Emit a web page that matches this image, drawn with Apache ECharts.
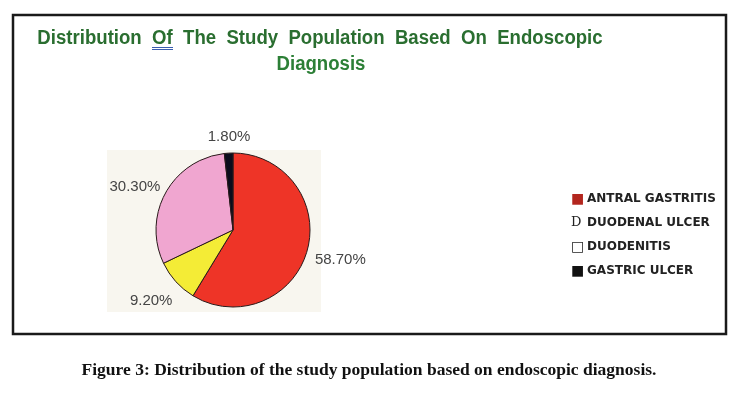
<!DOCTYPE html>
<html>
<head>
<meta charset="utf-8">
<script src="https://cdn.jsdelivr.net/npm/echarts@6/dist/echarts.min.js"></script>
<style>
html,body{margin:0;padding:0;background:#fff;}
#chart{width:747px;height:398px;}
</style>
</head>
<body>
<div id="chart"></div>
<script>
var categories = ['ANTRAL GASTRITIS', 'DUODENAL ULCER', 'DUODENITIS', 'GASTRIC ULCER'];
var values = [58.7, 9.2, 30.3, 1.8];
var sliceColors = ['#ee3427', '#f4ec36', '#f0a6d0', '#0b0c1c'];
var legendMarks = ['■', 'D', '□', '■'];
var legendMarkColors = ['#b3261e', '#222222', '#222222', '#111111'];
var titleLine1 = 'Distribution  Of  The  Study  Population  Based  On  Endoscopic';
var titleLine2 = 'Diagnosis';
var caption = 'Figure 3: Distribution of the study population based on endoscopic diagnosis.';

var chart = echarts.init(document.getElementById('chart'), null, {renderer: 'canvas'});

var pieData = categories.map(function (c, i) {
  return {name: c, value: values[i], itemStyle: {color: sliceColors[i]}};
});

// small label nudges (layout only)
var labelShift = [[-3, 7], [6, 15], [5, -3], [27, -10]];

var rich = {};
legendMarks.forEach(function (m, i) {
  rich['m' + i] = {
    color: legendMarkColors[i],
    fontSize: i === 1 ? 13 : 14,
    fontFamily: i === 1 ? 'DejaVu Serif' : 'DejaVu Sans',
    fontWeight: i === 1 ? 'normal' : 'bold',
    width: 16
  };
});
rich.t = {color: '#222', fontSize: 12, fontWeight: 'bold', fontFamily: 'DejaVu Sans'};

var titleFont = 'bold 20px "Liberation Sans", Arial, sans-serif';

var option = {
  backgroundColor: '#ffffff',
  animation: false,
  graphic: [
    {type: 'rect', shape: {x: 13, y: 15, width: 713, height: 319}, style: {fill: 'none', stroke: '#1a1a1a', lineWidth: 2.5}, z: 0},
    {type: 'rect', shape: {x: 107, y: 150, width: 214, height: 162}, style: {fill: '#f8f6ef'}, z: -1},
    {type: 'text', x: 320, y: 38, scaleX: 0.93, style: {text: titleLine1, fill: '#2a6e30', font: titleFont, textAlign: 'center', textVerticalAlign: 'middle'}},
    {type: 'text', x: 321, y: 64, scaleX: 0.93, style: {text: titleLine2, fill: '#2c7f36', font: titleFont, textAlign: 'center', textVerticalAlign: 'middle'}},
    {type: 'line', shape: {x1: 152, y1: 47.5, x2: 173, y2: 47.5}, style: {stroke: '#3a5db0', lineWidth: 1}},
    {type: 'line', shape: {x1: 152, y1: 49.5, x2: 173, y2: 49.5}, style: {stroke: '#3a5db0', lineWidth: 1}},
    {type: 'text', x: 369, y: 370, style: {text: caption, fill: '#111', font: 'bold 17.5px "Liberation Serif", "Times New Roman", serif', textAlign: 'center', textVerticalAlign: 'middle'}}
  ],
  legend: {
    orient: 'vertical',
    left: 560,
    top: 187,
    itemWidth: 0,
    itemHeight: 0,
    itemGap: 10,
    icon: 'rect',
    data: categories,
    formatter: function (name) {
      var i = categories.indexOf(name);
      return '{m' + i + '|' + legendMarks[i] + '}{t|' + name + '}';
    },
    textStyle: {rich: rich, lineHeight: 14}
  },
  series: [{
    type: 'pie',
    center: [233, 230],
    radius: 77,
    startAngle: 90,
    clockwise: true,
    silent: true,
    data: pieData,
    itemStyle: {borderColor: '#2a1a1a', borderWidth: 1},
    label: {
      show: true,
      position: 'outside',
      formatter: function (p) { return p.value.toFixed(2) + '%'; },
      color: '#444',
      fontSize: 15,
      fontFamily: '"Liberation Sans", Arial, sans-serif'
    },
    labelLine: {show: false, length: 6, length2: 0},
    labelLayout: function (p) {
      var s = labelShift[p.dataIndex];
      return {dx: s[0], dy: s[1]};
    }
  }]
};
chart.setOption(option);
</script>
</body>
</html>
